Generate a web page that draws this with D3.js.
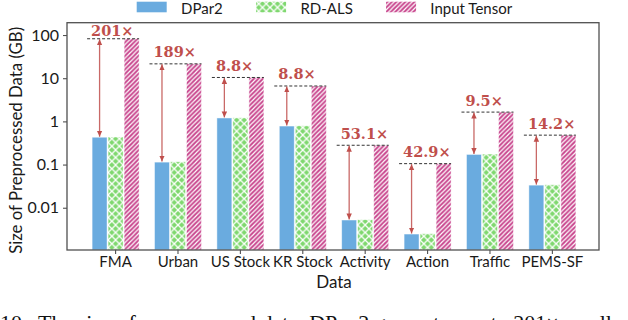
<!DOCTYPE html>
<html>
<head>
<meta charset="utf-8">
<script src="https://cdn.jsdelivr.net/npm/d3@7"></script>
<style>
  body { margin: 0; background: #fff; }
  svg { display: block; font-family: Lato, "Open Sans", sans-serif; }
</style>
</head>
<body>
<div id="chart"></div>
<script>
// Data
var datasets = ["FMA", "Urban", "US Stock", "KR Stock", "Activity", "Action", "Traffic", "PEMS-SF"];
var seriesNames = ["DPar2", "RD-ALS", "Input Tensor"];
var dpar2Size = [0.43, 0.114, 1.2, 0.78, 0.0052, 0.00246, 0.172, 0.0334];
var rdalsSize = [0.435, 0.116, 1.21, 0.79, 0.0053, 0.0025, 0.175, 0.034];
var inputSize = [82, 21.5, 10.4, 6.6, 0.28, 0.105, 1.64, 0.48];
var ratioLabels = ["201×", "189×", "8.8×", "8.8×", "53.1×", "42.9×", "9.5×", "14.2×"];
var yTicks = [0.01, 0.1, 1, 10, 100];
var yTickLabels = ["0.01", "0.1", "1", "10", "100"];

var width = 628, height = 320;
var plotLeft = 67, plotRight = 599, plotTop = 22.7, plotBottom = 250;

var colors = { "DPar2": "#6aabdf", "RD-ALS": "#7fd86f", "Input Tensor": "#c9488f" };
var fills = { "DPar2": "#6aabdf", "RD-ALS": "url(#hatch_x)", "Input Tensor": "url(#hatch_slash)" };
var annoColor = "#bf4f4c";

var svg = d3.select("#chart").append("svg")
    .attr("width", width)
    .attr("height", height);

// Hatch patterns
var defs = svg.append("defs");

var px = defs.append("pattern")
    .attr("id", "hatch_x")
    .attr("patternUnits", "userSpaceOnUse")
    .attr("width", 7.5).attr("height", 7.5);
px.append("rect").attr("width", 7.5).attr("height", 7.5).attr("fill", colors["RD-ALS"]);
px.append("path")
    .attr("d", "M0,0 L7.5,7.5 M0,7.5 L7.5,0")
    .attr("stroke", "#fff").attr("stroke-width", 1.3);

var ps = defs.append("pattern")
    .attr("id", "hatch_slash")
    .attr("patternUnits", "userSpaceOnUse")
    .attr("width", 4.5).attr("height", 4.5);
ps.append("rect").attr("width", 4.5).attr("height", 4.5).attr("fill", colors["Input Tensor"]);
ps.append("path")
    .attr("d", "M-1,1 L1,-1 M0,4.5 L4.5,0 M3.5,5.5 L5.5,3.5")
    .attr("stroke", "#fff").attr("stroke-width", 1.2);

// Arrow head
defs.append("marker")
    .attr("id", "arrow_head")
    .attr("markerUnits", "userSpaceOnUse")
    .attr("markerWidth", 6).attr("markerHeight", 6)
    .attr("refX", 6).attr("refY", 3)
    .attr("orient", "auto-start-reverse")
  .append("path")
    .attr("d", "M0,0.3 L6,3 L0,5.7 z")
    .attr("fill", annoColor);

// Scales
var x = d3.scaleBand()
    .domain(datasets)
    .range([plotLeft, plotRight])
    .paddingInner(0)
    .paddingOuter(0.263)
    .align(0.53);

var xSub = d3.scaleBand()
    .domain(seriesNames)
    .range([-23.5, 23.5])
    .paddingInner(0.065);

var y = d3.scaleLog()
    .domain([0.00105, 193])
    .range([plotBottom, plotTop]);

// Build rows from arrays
var rows = datasets.map(function(d, i) {
  return {
    name: d,
    values: [
      { key: "DPar2", value: dpar2Size[i] },
      { key: "RD-ALS", value: rdalsSize[i] },
      { key: "Input Tensor", value: inputSize[i] }
    ],
    ratio: ratioLabels[i]
  };
});

var cx = function(name) { return x(name) + x.bandwidth() / 2; };

// Bars
var groups = svg.append("g").selectAll("g")
    .data(rows)
  .enter().append("g")
    .attr("transform", function(d) { return "translate(" + cx(d.name) + ",0)"; });

groups.selectAll("rect")
    .data(function(d) { return d.values; })
  .enter().append("rect")
    .attr("x", function(d) { return xSub(d.key); })
    .attr("y", function(d) { return y(d.value); })
    .attr("width", xSub.bandwidth())
    .attr("height", function(d) { return plotBottom - y(d.value); })
    .attr("fill", function(d) { return fills[d.key]; })
    .attr("stroke", "#ffffff")
    .attr("stroke-opacity", 0.6)
    .attr("stroke-width", 0.8);

// Annotations: dashed level, double arrow, ratio label
var anno = svg.append("g");

rows.forEach(function(d, i) {
  var left = cx(d.name) + xSub("DPar2");
  var right = cx(d.name) + xSub("Input Tensor") + xSub.bandwidth();
  var yTop = y(inputSize[i]);
  var yLow = y(dpar2Size[i]);
  var ax = left + xSub.bandwidth() / 2;

  anno.append("line")
      .attr("x1", left - 5).attr("x2", right)
      .attr("y1", yTop).attr("y2", yTop)
      .attr("stroke", "#333")
      .attr("stroke-width", 1)
      .attr("stroke-dasharray", "3,2");

  anno.append("line")
      .attr("x1", ax).attr("x2", ax)
      .attr("y1", yTop + 0.5).attr("y2", yLow - 0.5)
      .attr("stroke", annoColor)
      .attr("stroke-opacity", 0.85)
      .attr("stroke-width", 1.3)
      .attr("marker-start", "url(#arrow_head)")
      .attr("marker-end", "url(#arrow_head)");

  anno.append("text")
      .attr("x", left - 1)
      .attr("y", Math.max(yTop - 6.5, plotTop + 13.5))
      .attr("fill", annoColor)
      .attr("font-family", "'DejaVu Serif', serif")
      .attr("font-weight", "bold")
      .attr("font-size", 14.5)
      .text(d.ratio);
});

// Frame
svg.append("rect")
    .attr("x", plotLeft).attr("y", plotTop)
    .attr("width", plotRight - plotLeft)
    .attr("height", plotBottom - plotTop)
    .attr("fill", "none")
    .attr("stroke", "#505050")
    .attr("stroke-width", 1.3);

// Y axis
var yAxis = d3.axisLeft(y)
    .tickValues(yTicks)
    .tickFormat(function(d, i) { return yTickLabels[i]; })
    .tickSize(4)
    .tickPadding(4);

var gy = svg.append("g")
    .attr("transform", "translate(" + plotLeft + ",0)")
    .call(yAxis);
gy.select(".domain").remove();
gy.selectAll("line").attr("stroke", "#505050").attr("stroke-width", 1.1);
gy.selectAll("text")
    .attr("font-family", "Lato, sans-serif")
    .attr("font-size", 16)
    .attr("fill", "#1a1a1a");

// X axis
var xAxis = d3.axisBottom(x).tickSize(4).tickPadding(2.5);
var gx = svg.append("g")
    .attr("transform", "translate(0," + plotBottom + ")")
    .call(xAxis);
gx.select(".domain").remove();
gx.selectAll("line").attr("stroke", "#505050").attr("stroke-width", 1.1);
gx.selectAll("text")
    .attr("font-family", "Lato, sans-serif")
    .attr("font-size", 15)
    .attr("fill", "#1a1a1a");

// Axis titles
svg.append("text")
    .attr("transform", "translate(22," + ((plotTop + plotBottom) / 2 + 4) + ") rotate(-90)")
    .attr("text-anchor", "middle")
    .attr("font-size", 16.8)
    .attr("fill", "#1a1a1a")
    .text("Size of Preprocessed Data (GB)");

svg.append("text")
    .attr("x", 334)
    .attr("y", 288)
    .attr("text-anchor", "middle")
    .attr("font-size", 17)
    .attr("fill", "#1a1a1a")
    .text("Data");

// Legend
var legend = svg.append("g");
var lx = 136.7;
seriesNames.forEach(function(name) {
  legend.append("rect")
      .attr("x", lx).attr("y", 1.7)
      .attr("width", 30).attr("height", 10.6)
      .attr("fill", fills[name]);
  var t = legend.append("text")
      .attr("x", lx + 44.3)
      .attr("y", 13.5)
      .attr("font-size", 15)
      .attr("fill", "#1a1a1a")
      .text(name);
  lx = lx + 44.3 + t.node().getComputedTextLength() + 33.3;
});

// Caption (cut off at the bottom edge, as in the source figure)
var caption = svg.append("g")
    .attr("font-family", "'Liberation Serif', serif")
    .attr("font-size", 22)
    .attr("fill", "#111");
caption.append("text").attr("x", 0).attr("y", 329.5).text("10.");
var ct = caption.append("text").attr("x", 38).attr("y", 329.5);
ct.append("tspan").text("The size of preprocessed data. DP");
ct.append("tspan").style("font-variant", "small-caps").text("ar");
ct.append("tspan").text("2 generates up to 201× smaller");
</script>
</body>
</html>
